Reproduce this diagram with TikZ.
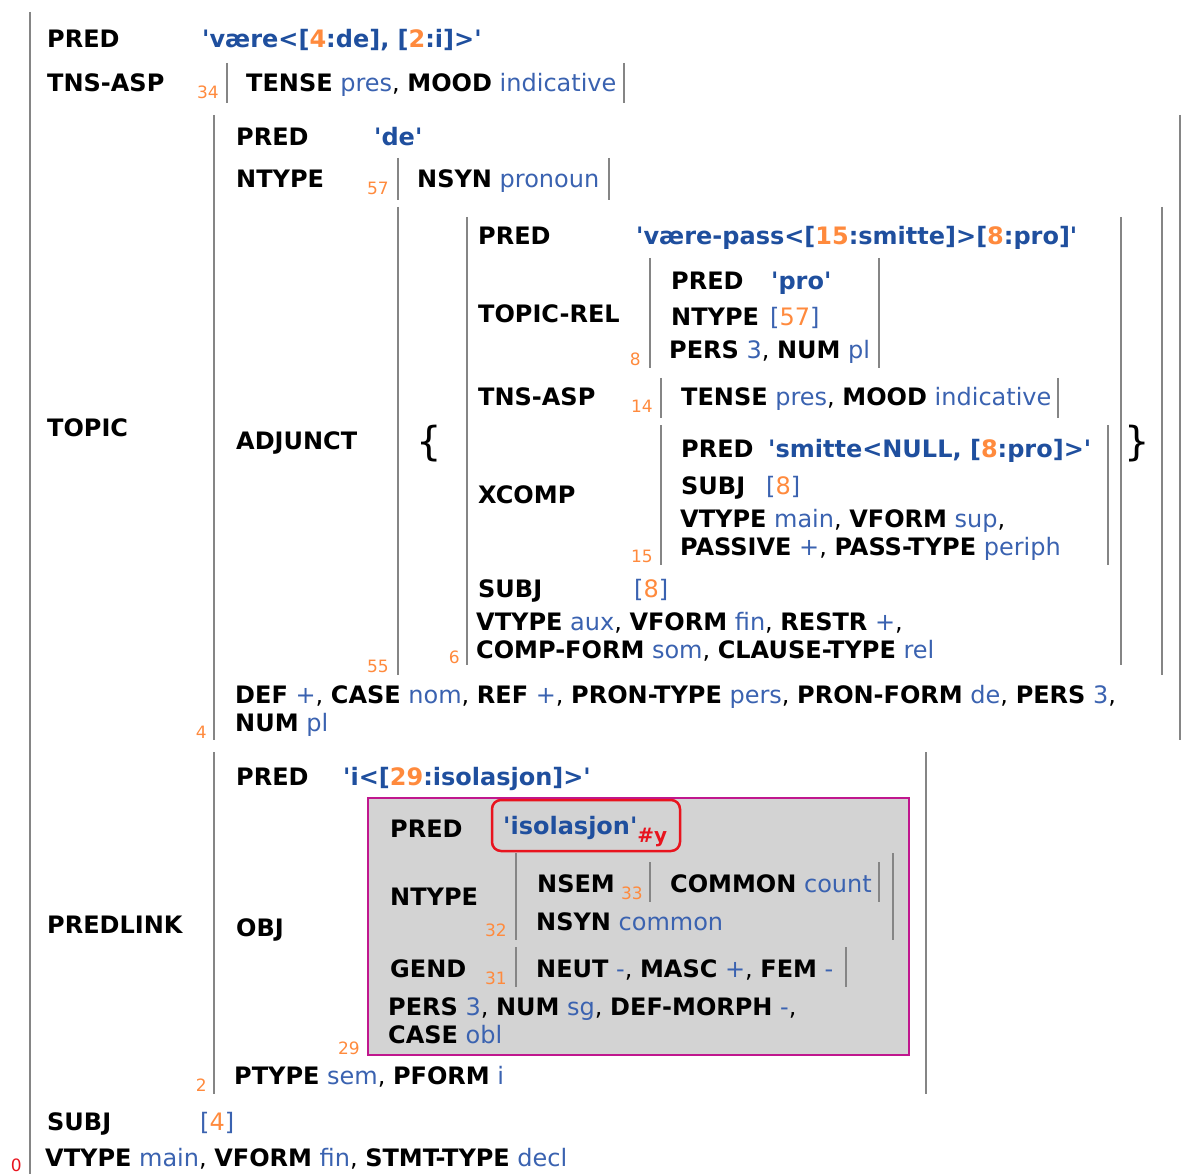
\documentclass[tikz,border=0pt]{standalone}
\usepackage{fontspec}
\setmainfont{DejaVu Sans}[Ligatures=TeXOff]
\usepackage{xcolor}
\usepackage{tikz}
\usetikzlibrary{positioning}
\definecolor{valblue}{HTML}{3A62B0}
\definecolor{predblue}{HTML}{1F4F9E}
\definecolor{idxorange}{HTML}{FF8A3D}
\definecolor{bargray}{HTML}{858585}
\definecolor{boxmag}{HTML}{C0178E}
\definecolor{boxgray}{HTML}{D3D3D3}
\definecolor{tagred}{HTML}{E8141E}
\newcommand{\feat}[1]{\textbf{#1}}
\newcommand{\fval}[1]{\textcolor{valblue}{#1}}
\newcommand{\fpred}[1]{\textcolor{predblue}{\textbf{#1}}}
\newcommand{\fix}[1]{\textcolor{idxorange}{#1}}
\newcommand{\fref}[1]{\fval{[}\fix{#1}\fval{]}}
\tikzstyle{txt} = [anchor=base west, inner sep=0pt, font=\fontsize{24}{28}\selectfont]
\tikzstyle{idx} = [anchor=base east, inner sep=0pt, font=\fontsize{17}{19}\selectfont, text=idxorange]
\tikzstyle{brace} = [anchor=center, inner sep=0pt, font=\fontsize{40}{44}\selectfont]
\tikzstyle{fbar} = [draw=bargray, line width=2.8pt]

\begin{document}
\begin{tikzpicture}[x=1pt,y=-1pt]
			\useasboundingbox (0,0) rectangle (1192,1174);
			% outer f-structure
			\draw [fbar] (30,12) -- (30,1174);
			\node (idx0) [idx, text=tagred] at (22,1171) {0};
			\node (pred0) [txt] at (47,48) {\feat{PRED}};
			\node (predval0) [txt] at (202,48) {\fpred{'være<[\fix{4}:de], [\fix{2}:i]>'}};
			\node (tns0) [txt] at (47,92) {\feat{TNS-ASP}};
			\node (idx34) [idx] at (219,99) {34};
			\draw [fbar] (227,63) -- (227,103);
			\node (tnsval0) [txt] at (246,92) {\feat{TENSE} \fval{pres}, \feat{MOOD} \fval{indicative}};
			\draw [fbar] (624,63) -- (624,103);
			
			% TOPIC
			\node (topic) [txt] at (47,436) {\feat{TOPIC}};
			\draw [fbar] (214,115) -- (214,740);
			\draw [fbar] (1180,115) -- (1180,740);
			\node (idx4) [idx] at (207,738) {4};
			\node (pred4) [txt] at (236,146) {\feat{PRED}};
			\node (predval4) [txt] at (374,146) {\fpred{'de'}};
			\node (ntype4) [txt] at (236,188) {\feat{NTYPE}};
			\node (idx57) [idx] at (389,195) {57};
			\draw [fbar] (398,158) -- (398,200);
			\node (nsyn57) [txt] at (417,188) {\feat{NSYN} \fval{pronoun}};
			\draw [fbar] (609,158) -- (609,200);
			\node (adjunct) [txt] at (236,449) {\feat{ADJUNCT}};
			\draw [fbar] (398,207) -- (398,675);
			\draw [fbar] (1162,207) -- (1162,675);
			\node (idx55) [idx] at (389,672) {55};
			\node (lbrace) [brace] at (429,444) {\{};
			\node (rbrace) [brace] at (1137,444) {\}};
			
			% adjunct member 6
			\draw [fbar] (467,217) -- (467,665);
			\draw [fbar] (1121,217) -- (1121,665);
			\node (idx6) [idx] at (460,663) {6};
			\node (pred6) [txt] at (478,245) {\feat{PRED}};
			\node (predval6) [txt] at (636,245) {\fpred{'være-pass<[\fix{15}:smitte]>[\fix{8}:pro]'}};
			\node (toprel) [txt] at (478,323) {\feat{TOPIC-REL}};
			\draw [fbar] (650,258) -- (650,368);
			\draw [fbar] (879,258) -- (879,368);
			\node (idx8) [idx] at (641,366) {8};
			\node (pred8) [txt] at (671,290) {\feat{PRED}};
			\node (predval8) [txt] at (771,290) {\fpred{'pro'}};
			\node (ntype8) [txt] at (671,326) {\feat{NTYPE}};
			\node (ntypeval8) [txt] at (770,326) {\fref{57}};
			\node (rest8) [txt] at (669,359) {\feat{PERS} \fval{3}, \feat{NUM} \fval{pl}};
			\node (tns6) [txt] at (478,406) {\feat{TNS-ASP}};
			\node (idx14) [idx] at (653,413) {14};
			\draw [fbar] (661,378) -- (661,418);
			\node (tnsval14) [txt] at (681,406) {\feat{TENSE} \fval{pres}, \feat{MOOD} \fval{indicative}};
			\draw [fbar] (1058,378) -- (1058,418);
			\node (xcomp) [txt] at (478,503) {\feat{XCOMP}};
			\draw [fbar] (661,425) -- (661,565);
			\draw [fbar] (1108,425) -- (1108,565);
			\node (idx15) [idx] at (653,562) {15};
			\node (pred15) [txt] at (681,457) {\feat{PRED}};
			\node (predval15) [txt] at (768,457) {\fpred{'smitte<NULL, [\fix{8}:pro]>'}};
			\node (subj15) [txt] at (681,494) {\feat{SUBJ}};
			\node (subjval15) [txt] at (766,494) {\fref{8}};
			\node (rest15a) [txt] at (680,527) {\feat{VTYPE} \fval{main}, \feat{VFORM} \fval{sup},};
			\node (rest15b) [txt] at (680,555) {\feat{PASSIVE} \fval{+}, \feat{PASS-TYPE} \fval{periph}};
			\node (subj6) [txt] at (478,597) {\feat{SUBJ}};
			\node (subjval6) [txt] at (634,597) {\fref{8}};
			\node (rest6a) [txt] at (476,630) {\feat{VTYPE} \fval{aux}, \feat{VFORM} \fval{fin}, \feat{RESTR} \fval{+},};
			\node (rest6b) [txt] at (476,658) {\feat{COMP-FORM} \fval{som}, \feat{CLAUSE-TYPE} \fval{rel}};
			\node (rest4a) [txt] at (235,703) {\feat{DEF} \fval{+}, \feat{CASE} \fval{nom}, \feat{REF} \fval{+}, \feat{PRON-TYPE} \fval{pers}, \feat{PRON-FORM} \fval{de}, \feat{PERS} \fval{3},};
			\node (rest4b) [txt] at (235,731) {\feat{NUM} \fval{pl}};
			
			% PREDLINK
			\node (predlink) [txt] at (47,933) {\feat{PREDLINK}};
			\draw [fbar] (214,752) -- (214,1094);
			\draw [fbar] (926,752) -- (926,1094);
			\node (idx2) [idx] at (207,1091) {2};
			\node (pred2) [txt] at (236,785) {\feat{PRED}};
			\node (predval2) [txt] at (343,785) {\fpred{'i<[\fix{29}:isolasjon]>'}};
			\node (obj) [txt] at (236,936) {\feat{OBJ}};
			\draw [draw=boxmag, fill=boxgray, line width=2.5pt] (368,798) rectangle (909,1055);
			\node (idx29) [idx] at (360,1054) {29};
			\node (pred29) [txt] at (390,837) {\feat{PRED}};
			\draw [draw=tagred, line width=2.5pt, rounded corners=9pt] (492,800) rectangle (680,851);
			\node (predval29) [txt] at (503,834) {\fpred{'isolasjon'}\raisebox{-8pt}{\fontsize{20}{22}\selectfont\textbf{\textcolor{tagred}{\#y}}}};
			\node (ntype29) [txt] at (390,905) {\feat{NTYPE}};
			\node (idx32) [idx] at (507,936) {32};
			\draw [fbar] (516,853) -- (516,940);
			\draw [fbar] (893,853) -- (893,940);
			\node (nsem) [txt] at (537,892) {\feat{NSEM}};
			\node (idx33) [idx] at (643,899) {33};
			\draw [fbar] (650,862) -- (650,902);
			\node (common) [txt] at (670,892) {\feat{COMMON} \fval{count}};
			\draw [fbar] (879,862) -- (879,902);
			\node (nsyn32) [txt] at (536,930) {\feat{NSYN} \fval{common}};
			\node (gend) [txt] at (390,977) {\feat{GEND}};
			\node (idx31) [idx] at (507,984) {31};
			\draw [fbar] (516,947) -- (516,987);
			\node (gendval) [txt] at (536,977) {\feat{NEUT} \fval{-}, \feat{MASC} \fval{+}, \feat{FEM} \fval{-}};
			\draw [fbar] (846,947) -- (846,987);
			\node (rest29a) [txt] at (388,1015) {\feat{PERS} \fval{3}, \feat{NUM} \fval{sg}, \feat{DEF-MORPH} \fval{-},};
			\node (rest29b) [txt] at (388,1043) {\feat{CASE} \fval{obl}};
			\node (rest2) [txt] at (234,1084) {\feat{PTYPE} \fval{sem}, \feat{PFORM} \fval{i}};
			
			% rest of outer f-structure
			\node (subj0) [txt] at (47,1130) {\feat{SUBJ}};
			\node (subjval0) [txt] at (200,1130) {\fref{4}};
			\node (rest0) [txt] at (45,1166) {\feat{VTYPE} \fval{main}, \feat{VFORM} \fval{fin}, \feat{STMT-TYPE} \fval{decl}};
			
		\end{tikzpicture}
\end{document}
